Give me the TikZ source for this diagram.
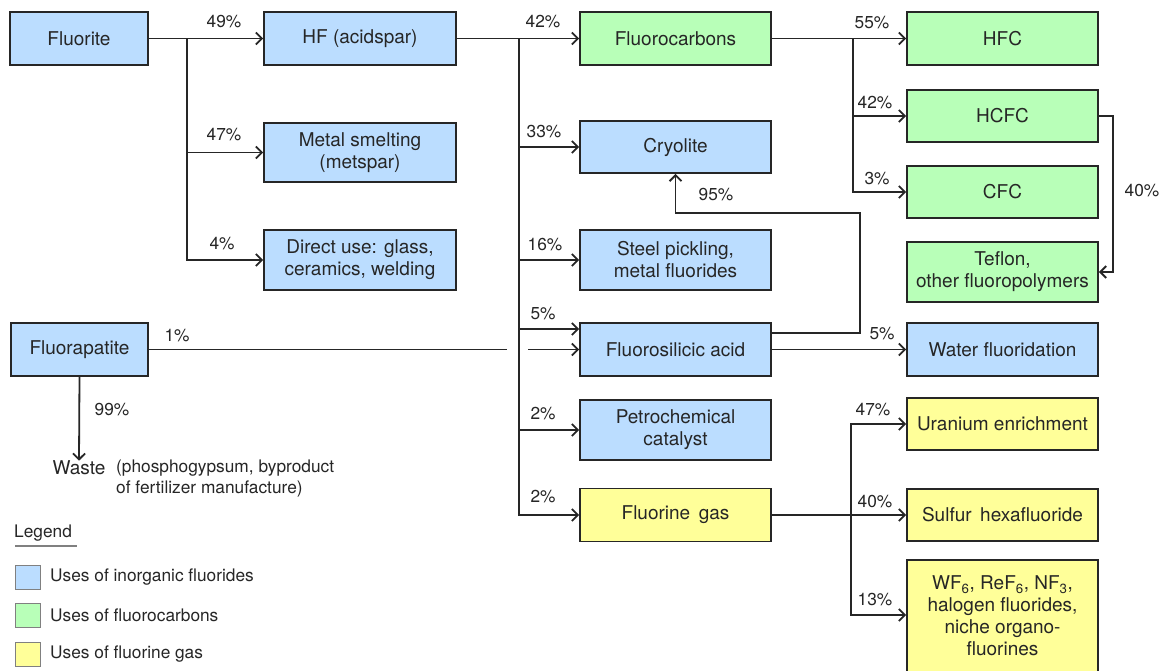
\documentclass[tikz,border=0pt]{standalone}
\usepackage{fontspec}
\setmainfont{TeX Gyre Heros}
\usetikzlibrary{arrows.meta,calc}
\definecolor{bluef}{HTML}{BBDDFF}
\definecolor{greenf}{HTML}{B8FFB8}
\definecolor{yellowf}{HTML}{FFFF99}
\definecolor{ink}{HTML}{262626}
\definecolor{txt}{HTML}{262626}
\begin{document}
\begin{tikzpicture}[x=1pt,y=-1pt,
  box/.style={draw=ink, line width=1.9pt, align=center, inner sep=0pt, text=txt,
    font=\fontsize{19}{22}\selectfont, minimum width=191pt, minimum height=53pt},
  bbox/.style={box, fill=bluef},
  gbox/.style={box, fill=greenf},
  ybox/.style={box, fill=yellowf},
  lbl/.style={text=txt, font=\fontsize{17.3}{20}\selectfont, inner sep=0pt},
  conn/.style={draw=ink, line width=1.8pt},
  flow/.style={conn, -{Straight Barb[length=6pt,width=12pt]}},
  swatch/.style={draw=gray, line width=1pt}
]
\fill[white] (0,0) rectangle (1161,670);
\useasboundingbox (0,0) rectangle (1161,670);

% column 1
\node[bbox, minimum width=138pt] (fluorite) at (79,38.5) {Fluorite};
\node[bbox, minimum width=137pt] (fluorapatite) at (79.5,349.5) {Fluorapatite};
% column 2
\node[bbox, minimum width=192pt] (hf) at (360,38.5) {HF (acidspar)};
\node[bbox, minimum width=192pt, minimum height=59pt] (metal) at (360,152.5) {Metal smelting\\(metspar)};
\node[bbox, minimum width=192pt, minimum height=60pt] (direct) at (360,260) {Direct use: glass,\\ceramics, welding};
% column 3
\node[gbox] (fluorocarbons) at (675.5,38.5) {Fluorocarbons};
\node[bbox, minimum height=52pt] (cryolite) at (675.5,147) {Cryolite};
\node[bbox, minimum height=60pt] (steel) at (675.5,260) {Steel pickling,\\metal fluorides};
\node[bbox] (fsa) at (675.5,349.5) {Fluorosilicic acid};
\node[bbox, minimum height=60pt] (petro) at (675.5,430) {Petrochemical\\catalyst};
\node[ybox] (fgas) at (675.5,515) {Fluorine\hspace{0.45em}gas};
% column 4
\node[gbox] (hfc) at (1002.5,38.5) {HFC};
\node[gbox, minimum height=52pt] (hcfc) at (1002.5,116) {HCFC};
\node[gbox, minimum height=52pt] (cfc) at (1002.5,192) {CFC};
\node[gbox, minimum height=60pt] (teflon) at (1002.5,272) {Teflon,\\other fluoropolymers};
\node[bbox] (water) at (1002.5,349.5) {Water fluoridation};
\node[ybox, minimum height=52pt] (uranium) at (1002.5,424) {Uranium enrichment};
\node[ybox, minimum height=52pt] (sulfur) at (1002.5,515) {Sulfur\hspace{0.45em}hexafluoride};
\node[ybox, minimum height=112pt] (wf) at (1002.5,616) {WF\textsubscript{6}, ReF\textsubscript{6}, NF\textsubscript{3},\\halogen fluorides,\\niche organo-\\fluorines};

% waste
\node[text=txt, font=\fontsize{19}{22}\selectfont, inner sep=0pt] (waste) at (79,468) {Waste};
\node[lbl, anchor=west, align=left, font=\fontsize{17.3}{21}\selectfont] (wastenote) at (116,479) {(phosphogypsum, byproduct\\of fertilizer manufacture)};

% junction coordinates
\coordinate (j1) at (187,38.5);
\coordinate (j2) at (519,38.5);
\coordinate (j3) at (853,38.5);
\coordinate (j4) at (851,515);
\coordinate (gapL) at (507,349.5);
\coordinate (gapR) at (528,349.5);
\coordinate (hcfcR) at (1113,116);
\coordinate (fsaUp) at (860,213);

% connectors
\draw[flow] (fluorite.east) -- (hf.west);
\draw[flow] (j1) |- (metal.west);
\draw[flow] (j1) |- (direct.west);

\draw[flow] (hf.east) -- (fluorocarbons.west);
\draw[flow] (j2) |- (cryolite.west);
\draw[flow] (j2) |- (steel.west);
\draw[flow] (j2) |- ([yshift=20.5pt]fsa.west);
\draw[flow] (j2) |- (petro.west);
\draw[flow] (j2) |- (fgas.west);

\draw[conn] (fluorapatite.east) -- (gapL);
\draw[flow] (gapR) -- (fsa.west);
\draw[flow] (fluorapatite.south) -- (waste.north);

\draw[flow] (fluorocarbons.east) -- (hfc.west);
\draw[flow] (j3) |- (hcfc.west);
\draw[flow] (j3) |- (cfc.west);
\draw[flow] (hcfc.east) -- (hcfcR) |- (teflon.east);

\draw[flow] ([yshift=16.5pt]fsa.east) -| (fsaUp) -| (cryolite.south);
\draw[flow] (fsa.east) -- (water.west);

\draw[flow] (fgas.east) -- (sulfur.west);
\draw[flow] (j4) |- (uranium.west);
\draw[flow] (j4) |- ([yshift=1pt]wf.west);

% percentage labels
\node[lbl] (p49) at (224,22) {49\%};
\node[lbl] (p47a) at (224,135) {47\%};
\node[lbl] (p4) at (222,244) {4\%};
\node[lbl] (p42a) at (543,22) {42\%};
\node[lbl] (p33) at (544,132) {33\%};
\node[lbl] (p16) at (545,245) {16\%};
\node[lbl] (p5a) at (543,314) {5\%};
\node[lbl] (p2a) at (543,414) {2\%};
\node[lbl] (p2b) at (543,497) {2\%};
\node[lbl] (p95) at (716,195) {95\%};
\node[lbl] (p55) at (872,23) {55\%};
\node[lbl] (p42b) at (875,103) {42\%};
\node[lbl] (p3) at (877,179) {3\%};
\node[lbl] (p40a) at (1142,191) {40\%};
\node[lbl] (p5b) at (882,334) {5\%};
\node[lbl] (p47b) at (873,410) {47\%};
\node[lbl] (p40b) at (875,502) {40\%};
\node[lbl] (p13) at (875,600) {13\%};
\node[lbl] (p1) at (177,336) {1\%};
\node[lbl] (p99) at (112,410) {99\%};

% legend
\node[lbl, anchor=west] (legend) at (14,533) {Legend};
\draw[draw=gray, line width=2.5pt] (15,546) -- (77,546);
\node[swatch, fill=bluef, minimum width=25pt, minimum height=24pt, inner sep=0pt] (sw1) at (27.5,577) {};
\node[swatch, fill=greenf, minimum width=25pt, minimum height=24pt, inner sep=0pt] (sw2) at (27.5,615) {};
\node[swatch, fill=yellowf, minimum width=25pt, minimum height=24pt, inner sep=0pt] (sw3) at (27.5,654) {};
\node[lbl, anchor=west] (lg1) at (50,577) {Uses of inorganic fluorides};
\node[lbl, anchor=west] (lg2) at (50,615) {Uses of fluorocarbons};
\node[lbl, anchor=west] (lg3) at (50,654) {Uses of fluorine gas};
\end{tikzpicture}
\end{document}
